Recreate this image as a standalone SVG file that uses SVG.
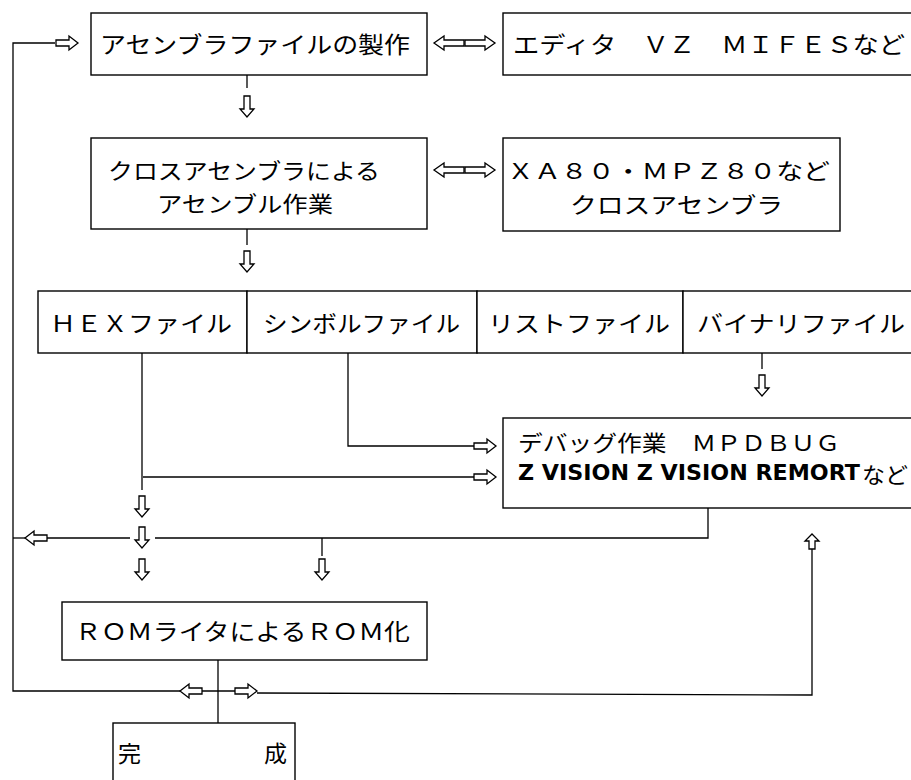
<svg xmlns="http://www.w3.org/2000/svg" width="911" height="780" viewBox="0 0 911 780">
<style>
.box{fill:#fff;stroke:#000;stroke-width:1.4}
.t{font-family:"Noto Sans CJK JP","Noto Sans",sans-serif;font-size:23px;fill:#000;dominant-baseline:central}
.s{font-size:22px}
.l{font-family:"DejaVu Sans",sans-serif;font-weight:bold;font-size:21px;fill:#000;dominant-baseline:central}
.ln{fill:none;stroke:#000;stroke-width:1.3}
.ar{fill:#fff;stroke:#000;stroke-width:1.3;stroke-linejoin:miter}
</style>
<defs>
<path id="aR" class="ar" d="M-22,-3 H-9 V-7 L0,0 L-9,7 V3 H-22 Z"/>
<path id="aL" class="ar" d="M22,-3 H9 V-7 L0,0 L9,7 V3 H22 Z"/>
<path id="aR2" class="ar" d="M-30,-3 H-10 V-7 L0,0 L-10,7 V3 H-30 Z"/>
<path id="aL2" class="ar" d="M30,-3 H10 V-7 L0,0 L10,7 V3 H30 Z"/>
<path id="aD" class="ar" d="M-3,-21 H3 V-8 H7 L0,0 L-7,-8 H-3 Z"/>
<path id="aU" class="ar" d="M-3,15 H3 V7 H7 L0,0 L-7,7 H-3 Z"/>
</defs>
<rect width="911" height="780" fill="#fff"/>

<g id="connectors">
<!-- feedback loop left -->
<polyline class="ln" points="55,43 13,43 13,691 180,691"/>
<use href="#aR" x="78" y="43"/>
<!-- box1 <-> editor -->
<use href="#aL2" x="434" y="43"/>
<use href="#aR2" x="495" y="43"/>
<!-- box3 <-> cross assembler -->
<use href="#aL2" x="434" y="170"/>
<use href="#aR2" x="495" y="170"/>
<!-- box1 -> box3 -->
<line class="ln" x1="247" y1="75" x2="247" y2="88"/>
<use href="#aD" x="247" y="117"/>
<!-- box3 -> files -->
<line class="ln" x1="247" y1="229" x2="247" y2="245"/>
<use href="#aD" x="247" y="272"/>
<!-- binary -> debug -->
<line class="ln" x1="762" y1="353" x2="762" y2="369"/>
<use href="#aD" x="762" y="396"/>
<!-- symbol -> debug -->
<polyline class="ln" points="348,353 348,446 474,446"/>
<use href="#aR" x="496" y="446"/>
<!-- HEX line -->
<line class="ln" x1="142" y1="353" x2="142" y2="490"/>
<polyline class="ln" points="143,477 474,477"/>
<use href="#aR" x="496" y="477"/>
<use href="#aD" x="142" y="517"/>
<use href="#aD" x="142" y="548"/>
<use href="#aD" x="142" y="580"/>
<!-- debug return line -->
<polyline class="ln" points="708,508 708,538 155,538"/>
<line class="ln" x1="130" y1="538" x2="47" y2="538"/>
<line class="ln" x1="13" y1="538" x2="25" y2="538"/>
<use href="#aL" x="25" y="538"/>
<line class="ln" x1="322" y1="538" x2="322" y2="556"/>
<use href="#aD" x="322" y="580"/>
<!-- ROM -> completion and side arrows -->
<line class="ln" x1="218" y1="660" x2="218" y2="723"/>
<line class="ln" x1="202" y1="691" x2="235" y2="691"/>
<use href="#aL" x="180" y="691"/>
<use href="#aR" x="257" y="691"/>
<polyline class="ln" points="257,693 812,695 812,549"/>
<use href="#aU" x="812" y="534"/>
</g>

<g id="n1"><rect class="box" x="91" y="13" width="336" height="62"/>
<text class="t" x="100" y="43" textLength="310" lengthAdjust="spacingAndGlyphs">アセンブラファイルの製作</text></g>
<g id="n2"><rect class="box" x="503" y="13" width="420" height="62"/>
<text class="t" x="513" y="43" textLength="392" lengthAdjust="spacingAndGlyphs">エディタ　ＶＺ　ＭＩＦＥＳなど</text></g>
<g id="n3"><rect class="box" x="91" y="138" width="336" height="91"/>
<text class="t s" x="108" y="169" textLength="272" lengthAdjust="spacingAndGlyphs">クロスアセンブラによる</text>
<text class="t s" x="157" y="202" textLength="176" lengthAdjust="spacingAndGlyphs">アセンブル作業</text></g>
<g id="n4"><rect class="box" x="503" y="138" width="337" height="93"/>
<text class="t s" x="507" y="169" textLength="323" lengthAdjust="spacingAndGlyphs">ＸＡ８０・ＭＰＺ８０など</text>
<text class="t s" x="570" y="203" textLength="213" lengthAdjust="spacingAndGlyphs">クロスアセンブラ</text></g>
<g id="n5"><rect class="box" x="38" y="291" width="209" height="62"/>
<text class="t" x="50" y="322" textLength="182" lengthAdjust="spacingAndGlyphs">ＨＥＸファイル</text></g>
<g id="n6"><rect class="box" x="247" y="291" width="230" height="62"/>
<text class="t" x="263" y="322" textLength="197" lengthAdjust="spacingAndGlyphs">シンボルファイル</text></g>
<g id="n7"><rect class="box" x="477" y="291" width="206" height="62"/>
<text class="t" x="488" y="322" textLength="182" lengthAdjust="spacingAndGlyphs">リストファイル</text></g>
<g id="n8"><rect class="box" x="683" y="291" width="240" height="62"/>
<text class="t" x="697" y="322" textLength="208" lengthAdjust="spacingAndGlyphs">バイナリファイル</text></g>
<g id="n9"><rect class="box" x="503" y="418" width="420" height="90"/>
<text class="t s" x="518" y="441" textLength="322" lengthAdjust="spacingAndGlyphs">デバッグ作業　ＭＰＤＢＵＧ</text>
<text class="l" x="518" y="473" textLength="342" lengthAdjust="spacingAndGlyphs">Z VISION Z VISION REMORT</text>
<text class="t s" x="862" y="473" textLength="46" lengthAdjust="spacingAndGlyphs">など</text></g>
<g id="n10"><rect class="box" x="62" y="602" width="365" height="58"/>
<text class="t" x="75" y="630" textLength="335" lengthAdjust="spacingAndGlyphs">ＲＯＭライタによるＲＯＭ化</text></g>
<g id="n11"><rect class="box" x="113" y="723" width="182" height="80"/>
<text class="t" x="118" y="752">完</text>
<text class="t" x="264" y="752">成</text></g>
</svg>
